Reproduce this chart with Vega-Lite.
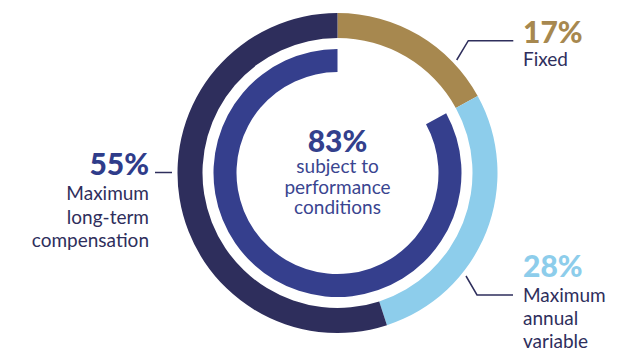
{
  "$schema": "https://vega.github.io/schema/vega-lite/v6.json",
  "width": 571,
  "height": 346,
  "autosize": {"type": "none"},
  "padding": {"left": 52, "top": 0, "right": 0, "bottom": 3},
  "background": "white",
  "config": {"view": {"stroke": null}, "font": "Lato"},
  "datasets": {
    "outer": [
      {"seg": "Fixed", "start": 0, "end": 17},
      {"seg": "Maximum annual variable", "start": 17, "end": 45},
      {"seg": "Maximum long-term compensation", "start": 45, "end": 100}
    ],
    "inner": [
      {"seg": "Subject to performance conditions", "start": 17, "end": 100}
    ],
    "leaders": [
      {"id": "Fixed", "o": 1, "x": 119.2, "y": -113},
      {"id": "Fixed", "o": 2, "x": 130.8, "y": -132.3},
      {"id": "Fixed", "o": 3, "x": 175.8, "y": -132.3},
      {"id": "Annual", "o": 1, "x": 128.5, "y": 103},
      {"id": "Annual", "o": 2, "x": 139.5, "y": 122},
      {"id": "Annual", "o": 3, "x": 175.5, "y": 122},
      {"id": "LTI", "o": 1, "x": -182.5, "y": -0.5},
      {"id": "LTI", "o": 2, "x": -165.5, "y": -0.5}
    ],
    "rightPct": [
      {"seg": "Fixed", "label": "17%", "x": 185.5, "y": -130},
      {"seg": "Maximum annual variable", "label": "28%", "x": 185.5, "y": 104}
    ],
    "rightDesc": [
      {"label": "Fixed", "x": 185.5, "y": -107},
      {"label": "Maximum\nannual\nvariable", "x": 185.5, "y": 129}
    ],
    "leftPct": [
      {"label": "55%", "x": -188.5, "y": 2}
    ],
    "leftDesc": [
      {"label": "Maximum\nlong-term\ncompensation", "x": -188.5, "y": 27}
    ],
    "centerPct": [
      {"label": "83%", "x": 0, "y": -21}
    ],
    "centerDesc": [
      {"label": "subject to\nperformance\nconditions", "x": 0, "y": 0}
    ]
  },
  "layer": [
    {
      "data": {"name": "outer"},
      "mark": {"type": "arc", "radius": 160, "radius2": 135},
      "encoding": {
        "theta": {"field": "start", "type": "quantitative", "scale": {"domain": [0, 100], "range": [0, 6.283185307179586]}},
        "theta2": {"field": "end"},
        "color": {
          "field": "seg", "type": "nominal", "legend": null,
          "scale": {"domain": ["Fixed", "Maximum annual variable", "Maximum long-term compensation"], "range": ["#A7884F", "#8DCDEB", "#2E2E5C"]}
        }
      }
    },
    {
      "data": {"name": "inner"},
      "mark": {"type": "arc", "radius": 124, "radius2": 101, "color": "#353F8D"},
      "encoding": {
        "theta": {"field": "start", "type": "quantitative", "scale": {"domain": [0, 100], "range": [0, 6.283185307179586]}},
        "theta2": {"field": "end"}
      }
    },
    {
      "data": {"name": "leaders"},
      "mark": {"type": "line", "color": "#2E2E5C", "strokeWidth": 1.5},
      "encoding": {
        "x": {"field": "x", "type": "quantitative", "axis": null, "scale": {"domain": [-285.5, 285.5], "nice": false, "zero": false}},
        "y": {"field": "y", "type": "quantitative", "axis": null, "scale": {"domain": [-173, 173], "reverse": true, "nice": false, "zero": false}},
        "detail": {"field": "id"},
        "order": {"field": "o"}
      }
    },
    {
      "data": {"name": "rightPct"},
      "mark": {"type": "text", "align": "left", "baseline": "alphabetic", "fontSize": 30, "fontWeight": 900},
      "encoding": {
        "x": {"field": "x", "type": "quantitative"},
        "y": {"field": "y", "type": "quantitative"},
        "text": {"field": "label"},
        "color": {
          "field": "seg", "type": "nominal", "legend": null,
          "scale": {"domain": ["Fixed", "Maximum annual variable", "Maximum long-term compensation"], "range": ["#A7884F", "#8DCDEB", "#2E2E5C"]}
        }
      }
    },
    {
      "data": {"name": "rightDesc"},
      "mark": {"type": "text", "align": "left", "baseline": "alphabetic", "fontSize": 19, "lineBreak": "\n", "lineHeight": 23, "color": "#2E2E5C"},
      "encoding": {
        "x": {"field": "x", "type": "quantitative"},
        "y": {"field": "y", "type": "quantitative"},
        "text": {"field": "label"}
      }
    },
    {
      "data": {"name": "leftPct"},
      "mark": {"type": "text", "align": "right", "baseline": "alphabetic", "fontSize": 30, "fontWeight": 900, "color": "#2F3C8A"},
      "encoding": {
        "x": {"field": "x", "type": "quantitative"},
        "y": {"field": "y", "type": "quantitative"},
        "text": {"field": "label"}
      }
    },
    {
      "data": {"name": "leftDesc"},
      "mark": {"type": "text", "align": "right", "baseline": "alphabetic", "fontSize": 19, "lineBreak": "\n", "lineHeight": 23.5, "color": "#2E2E5C"},
      "encoding": {
        "x": {"field": "x", "type": "quantitative"},
        "y": {"field": "y", "type": "quantitative"},
        "text": {"field": "label"}
      }
    },
    {
      "data": {"name": "centerPct"},
      "mark": {"type": "text", "align": "center", "baseline": "alphabetic", "fontSize": 30, "fontWeight": 900, "color": "#33408C"},
      "encoding": {
        "x": {"field": "x", "type": "quantitative"},
        "y": {"field": "y", "type": "quantitative"},
        "text": {"field": "label"}
      }
    },
    {
      "data": {"name": "centerDesc"},
      "mark": {"type": "text", "align": "center", "baseline": "alphabetic", "fontSize": 19, "lineBreak": "\n", "lineHeight": 20.5, "color": "#3A4590"},
      "encoding": {
        "x": {"field": "x", "type": "quantitative"},
        "y": {"field": "y", "type": "quantitative"},
        "text": {"field": "label"}
      }
    }
  ],
  "resolve": {"scale": {"color": "independent"}}
}
